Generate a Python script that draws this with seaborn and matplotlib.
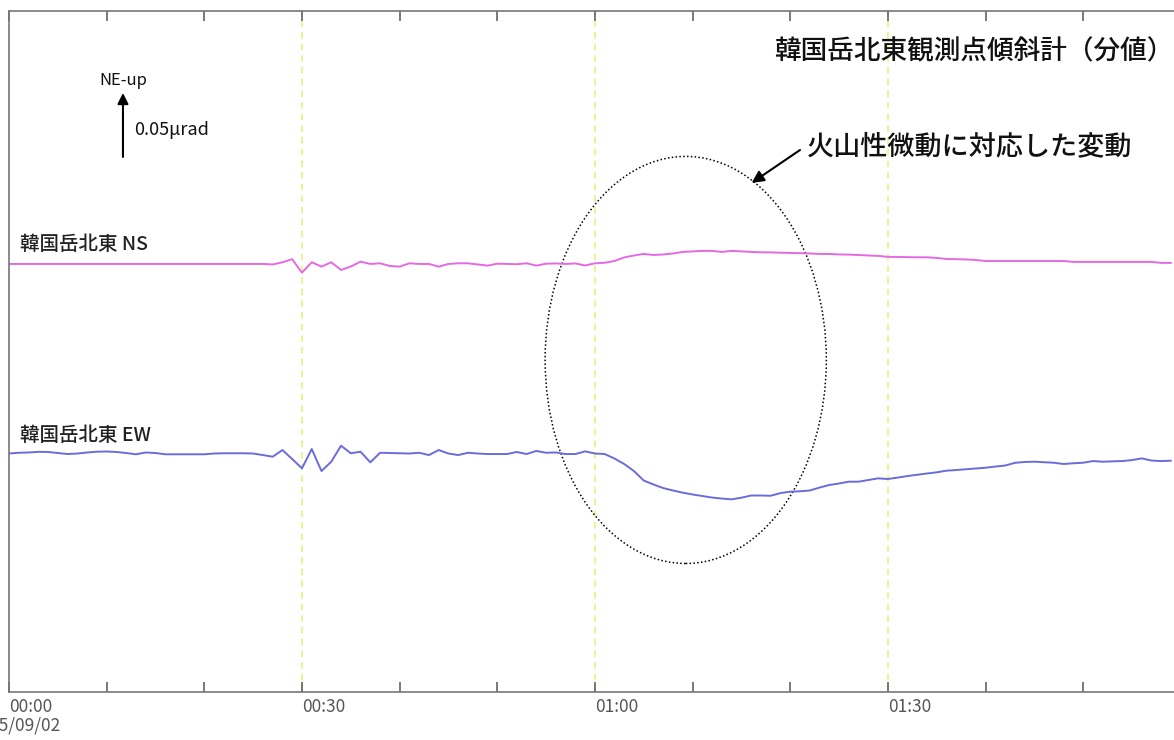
import numpy as np
import pandas as pd
import matplotlib
matplotlib.use("Agg")
import matplotlib.pyplot as plt
from matplotlib.patches import Ellipse
import seaborn as sns

# ---- data (minute values, tilt in nrad = 0.001 μrad, relative to 00:00) ----
minutes = list(range(120))

ns_tilt = [
    0, 0, 0, 0, 0, 0, 0, 0, 0, 0,
    0, 0, 0, 0, 0, 0, 0, 0, 0, 0,
    0, 0, 0, 0, 0, 0, 0, -0.4, 1.3, 3.7,
    -6.8, 1.3, -2.1, 1.3, -4.7, -2.0, 1.8, 0, 0.5, -1.6,
    -2.1, 0.5, 0, 0, -2.1, 0, 0.5, 0.5, -0.4, -1.3,
    0.2, 0, -0.2, 0.5, -1.3, 0.2, 0.4, 0, 0.4, -1.2,
    0.5, 0.9, 2.3, 5.1, 6.6, 7.8, 7.0, 7.4, 8.2, 9.4,
    9.8, 10.2, 10.2, 9.4, 10.2, 9.8, 9.4, 9.1, 9.0, 8.8,
    8.6, 8.4, 8.2, 7.8, 7.8, 7.4, 7.3, 7.0, 6.6, 6.3,
    5.5, 5.5, 5.3, 5.2, 5.2, 4.7, 3.9, 3.7, 3.5, 3.1,
    2.3, 2.3, 2.3, 2.3, 2.3, 2.3, 2.3, 2.3, 2.3, 1.6,
    1.6, 1.6, 1.6, 1.6, 1.6, 1.6, 1.6, 1.6, 0.8, 0.8,
]

ew_tilt = [
    0, 0.6, 0.8, 1.3, 1.2, 0.4, -0.4, 0, 0.8, 1.4,
    1.6, 1.2, 0.4, -0.6, 0.8, 0.4, -0.6, -0.6, -0.6, -0.6,
    -0.6, 0, 0.2, 0.2, 0.2, 0, -1.2, -2.5, 2.7, -4.3,
    -11.6, 3.5, -13.7, -6.4, 6.1, 0.2, 1.4, -6.9, 0.6, 0.4,
    0.2, 0, 0.6, -1.2, 2.7, 0, -1.2, 0.6, 0, -0.4,
    -0.4, -0.4, 1.2, -0.4, 2.0, 0.6, 0.8, -0.4, -0.4, 1.7,
    0, -0.4, -3.9, -8.2, -13.7, -21.1, -24.2, -27.0, -28.9, -30.6,
    -32.0, -33.2, -34.4, -35.2, -35.8, -34.5, -32.8, -32.8, -33.0, -30.9,
    -29.8, -29.5, -28.9, -26.6, -24.6, -23.4, -22.0, -22.0, -20.7, -19.4,
    -19.9, -18.8, -17.6, -16.6, -15.6, -14.7, -13.4, -12.9, -12.3, -11.7,
    -11.1, -10.2, -9.4, -7.3, -6.6, -6.4, -6.8, -7.2, -8.2, -7.6,
    -7.2, -5.9, -6.4, -6.1, -5.9, -5.1, -3.8, -5.5, -5.9, -5.6,
]

series_names = ["韓国岳北東 NS", "韓国岳北東 EW"]
series_colors = ["#e46ae4", "#6b6bdc"]

tick_minutes = [0, 10, 20, 30, 40, 50, 60, 70, 80, 90, 100, 110]
tick_labels = ["00:00", "", "", "00:30", "", "", "01:00", "", "", "01:30", "", ""]
grid_minutes = [30, 60, 90]
date_label = "15/09/02"

title_text = "韓国岳北東観測点傾斜計（分値）"
event_note = "火山性微動に対応した変動"
scale_value = 50          # nrad, i.e. 0.05 μrad
scale_text = "0.05μrad"
direction_text = "NE-up"

# ---- layout ----
ns_offset = 334.4
ew_offset = 186.3
y_top = 532.0
x_right = 119.3

sns.set_style("white")
plt.rcParams["font.family"] = ["Noto Sans CJK JP", "DejaVu Sans"]

fig = plt.figure(figsize=(11.74, 7.40), dpi=100)
ax = fig.add_axes([9 / 1174, 48 / 740, 1 - 9 / 1174, 681 / 740])

df = pd.concat([
    pd.DataFrame({"minute": minutes, "tilt": np.array(ns_tilt) + ns_offset,
                  "series": series_names[0]}),
    pd.DataFrame({"minute": minutes, "tilt": np.array(ew_tilt) + ew_offset,
                  "series": series_names[1]}),
])

for gx in grid_minutes:
    ax.axvline(gx, color="#eeee80", lw=1.2, ls=(0, (4, 3)), zorder=0)

sns.lineplot(data=df, x="minute", y="tilt", hue="series",
             palette=dict(zip(series_names, series_colors)),
             lw=1.4, legend=False, ax=ax, estimator=None, sort=False)

ax.set_xlim(0, x_right)
ax.set_ylim(0, y_top)
ax.set_xlabel("")
ax.set_ylabel("")
ax.set_yticks([])

ax.set_xticks(tick_minutes)
ax.set_xticklabels(tick_labels)
for lab in ax.get_xticklabels():
    lab.set_horizontalalignment("left")
ax.tick_params(axis="x", direction="in", length=7.5, width=1.1,
               color="#555555", top=True, bottom=True,
               labelsize=12.5, labelcolor="#555555", pad=4)

for side in ["left", "top", "bottom"]:
    ax.spines[side].set_color("#777777")
    ax.spines[side].set_linewidth(1.2)
ax.spines["right"].set_visible(False)

# date under the first time label
ax.annotate(date_label, xy=(0, 0), xycoords=("data", "axes fraction"),
            xytext=(-14, -18), textcoords="offset points",
            ha="left", va="top", fontsize=12.5, color="#555555",
            annotation_clip=False)

# series labels
ax.text(1.1, ns_offset + 15, series_names[0], fontsize=14, color="#222222",
        ha="left", va="center", fontweight="medium")
ax.text(1.1, ew_offset + 14, series_names[1], fontsize=14, color="#222222",
        ha="left", va="center", fontweight="medium")

# title
ax.text(119.2, 500, title_text, fontsize=19.2, color="#111111",
        ha="right", va="center", fontweight="medium")

# scale arrow
arrow_x = 11.67
arrow_base = 418
ax.annotate("", xy=(arrow_x, arrow_base + scale_value),
            xytext=(arrow_x, arrow_base),
            arrowprops=dict(arrowstyle="-|>", color="black", lw=1.5,
                            mutation_scale=16, shrinkA=0, shrinkB=0))
ax.text(arrow_x, 478, direction_text, fontsize=12, color="#111111",
        ha="center", va="center")
ax.text(12.8, 439, scale_text, fontsize=13, color="#111111",
        ha="left", va="center")

# highlighted interval
ax.add_patch(Ellipse((69.3, 259.4), 28.8, 318, fill=False,
                     ec="black", lw=1.1, ls=(0, (1, 1.5))))
ax.text(81.7, 425.8, event_note, fontsize=19.5, color="#111111",
        ha="left", va="center", fontweight="medium")
ax.annotate("", xy=(76.05, 397.7), xytext=(81.0, 423.4),
            arrowprops=dict(arrowstyle="-|>", color="black", lw=1.5,
                            mutation_scale=18, shrinkA=0, shrinkB=0))

fig.savefig("out.png", dpi=100)
